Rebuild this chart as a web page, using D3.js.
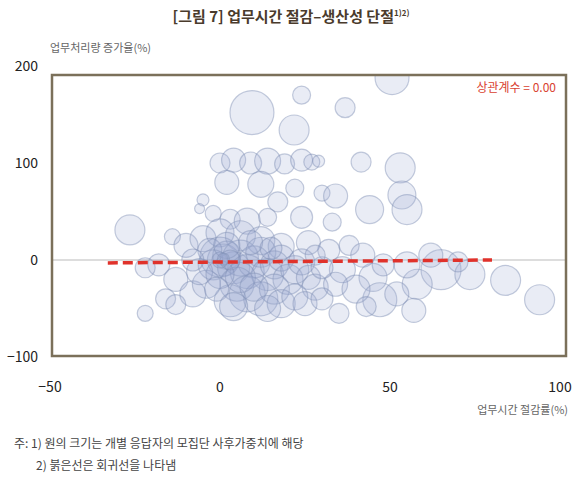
<!DOCTYPE html>
<html><head><meta charset="utf-8">
<script src="https://cdn.jsdelivr.net/npm/d3@7"></script>
<style>
body{margin:0;background:#fff;font-family:"Noto Sans CJK KR","Noto Sans",sans-serif;}
</style></head>
<body><svg id="chart" width="583" height="485"></svg>
<script>
// bubbles: [x 업무시간 절감률, y 업무처리량 증가율, weight]
const bubbles = [
  [50.6,188,289],[24,170,81],[9.4,152,484],[21.8,134,225],[36.8,157,100],[41.5,101,100],[53,95,225],[44,52,196],[53.5,67,196],[55,52,225],[-26.5,31,225],
  [0,100,100],[4,103,144],[9,100,121],[14,102,169],[19,99,100],[24,103,121],[27,101,64],[29,102,36],[2,80,144],[12,78,169],[22,74,81],[30,69,64],[17,60,100],[-5,62,36],[-6,53,25],[-2,48,64],[3,42,100],[8,40,169],[14,44,81],[24,44,121],[34,66,144],[33,39,81],[-14,24,64],
  [-10,15,144],[-5,22,169],[0,28,196],[6,25,225],[12,20,196],[18,14,169],[26,18,144],[32,10,121],[38,15,100],[42,5,144],[36,-10,169],[45,-18,196],[48,-5,121],[-18,-5,121],[-22,-8,100],[-13,-20,144],[-16,-40,100],[-8,-35,169],
  [0,3,400],[1,0,256],[2,5,196],[-2,-5,225],[4,-8,256],[6,2,324],[8,-12,289],[10,-2,256],[12,8,225],[14,-15,256],[16,-5,196],[18,2,169],[20,-20,225],[22,-10,196],[24,-2,169],[26,-18,144],[28,-28,169],[5,-25,289],[8,-35,324],[3,-42,256],[12,-40,289],[16,-30,225],[18,-45,196],[22,-38,169],[-4,-25,196],[-6,-12,169],[-3,10,144],[2,15,169],[9,18,144],[15,12,121],[6,-18,225],[10,-28,196],[0,-15,196],[-1,-30,144],[4,-48,196],[14,-50,169],[25,-45,144],[30,-40,121],[34,-25,144],[30,-8,121],[28,5,100],[-8,0,121],[3,0,100],[0,0,64],[1,1,36],
  [65,-10,400],[73.5,-15,225],[84,-21,225],[94,-41,225],[58,-25,225],[47,-41,289],[57,-52,144],[62,5,144],[70,-2,100],[55,-5,169],[40,-30,196],[43,-48,100],[52,-35,144],
  [-13,-46,100],[-22,-55,64],[35,-55,100]
];
const regression = [[-33,-3],[80,0]];
const xTicks = [-50, 0, 50, 100];
const yTicks = [-100, 0, 100, 200];

const svg = d3.select('#chart');
const x = d3.scaleLinear().domain([-50, 100]).range([50, 560]);
const y = d3.scaleLinear().domain([-100, 200]).range([357, 66]);
const r = d3.scaleSqrt().domain([0, 484]).range([0, 22]);

const frameL = 52, frameR = 566, frameT = 75, frameB = 356;

svg.append('text').attr('x', 291).attr('y', 22).attr('text-anchor', 'middle')
  .attr('font-size', 15).attr('font-weight', 'bold').attr('fill', '#4a3b2c')
  .text('[그림 7] 업무시간 절감–생산성 단절')
  .append('tspan').attr('font-size', 8).attr('dy', -6).text('1)2)');

svg.append('text').attr('x', 50).attr('y', 52).attr('font-size', 11).attr('fill', '#666').text('업무처리량 증가율(%)');

svg.append('clipPath').attr('id', 'clip').append('rect')
  .attr('x', frameL).attr('y', frameT).attr('width', frameR - frameL).attr('height', frameB - frameT);

const plot = svg.append('g').attr('clip-path', 'url(#clip)');
plot.append('line').attr('x1', frameL).attr('x2', frameR).attr('y1', y(0)).attr('y2', y(0))
  .attr('stroke', '#bbb').attr('stroke-width', 1);

plot.selectAll('circle').data(bubbles).join('circle')
  .attr('cx', d => x(d[0])).attr('cy', d => y(d[1])).attr('r', d => r(d[2]))
  .attr('fill', '#9aaad2').attr('fill-opacity', 0.22)
  .attr('stroke', '#7f8db3').attr('stroke-opacity', 0.45).attr('stroke-width', 1.2);

plot.append('path').datum(regression)
  .attr('d', d3.line().x(d => x(d[0])).y(d => y(d[1])))
  .attr('stroke', '#e0322b').attr('stroke-width', 3.5).attr('stroke-dasharray', '10,5').attr('fill', 'none');

svg.append('rect').attr('x', frameL).attr('y', frameT).attr('width', frameR - frameL).attr('height', frameB - frameT)
  .attr('fill', 'none').attr('stroke', '#7b705a').attr('stroke-width', 2.5);

svg.append('text').attr('x', 556).attr('y', 92).attr('text-anchor', 'end')
  .attr('font-size', 12).attr('fill', '#d9412f').text('상관계수 = 0.00');

svg.selectAll('.yt').data(yTicks).join('text')
  .attr('x', 38).attr('y', d => y(d) + 5).attr('text-anchor', 'end')
  .attr('font-size', 14).attr('fill', '#222').text(d => d < 0 ? '−' + Math.abs(d) : d);

svg.selectAll('.xt').data(xTicks).join('text')
  .attr('x', d => x(d)).attr('y', 392).attr('text-anchor', 'middle')
  .attr('font-size', 14).attr('fill', '#222').text(d => d < 0 ? '−' + Math.abs(d) : d);

svg.append('text').attr('x', 568).attr('y', 414).attr('text-anchor', 'end')
  .attr('font-size', 11).attr('fill', '#666').text('업무시간 절감률(%)');

svg.append('text').attr('x', 14).attr('y', 448).attr('font-size', 12).attr('fill', '#444')
  .text('주: 1) 원의 크기는 개별 응답자의 모집단 사후가중치에 해당');
svg.append('text').attr('x', 36).attr('y', 470).attr('font-size', 12).attr('fill', '#444')
  .text('2) 붉은선은 회귀선을 나타냄');
</script></body></html>
